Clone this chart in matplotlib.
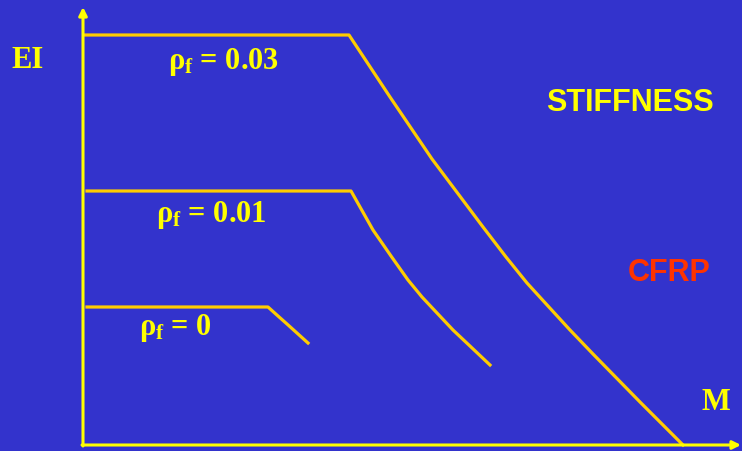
import matplotlib.pyplot as plt

# ======================
# Data (M vs EI, arbitrary units)
# ======================
m_003 = [2, 266, 307, 349, 400, 423, 444, 465, 487, 510, 557, 600]
ei_003 = [410, 410, 348, 286, 218, 188, 162, 139, 115, 91, 43, 0]

m_001 = [4, 268, 290, 308, 325, 339, 354, 370, 388, 407]
ei_001 = [254, 254, 215, 189, 165, 148, 132, 115, 98, 80]

m_000 = [4, 185, 195, 204, 225]
ei_000 = [138, 138, 129, 121, 102]

labels = [r"$\rho_{\mathrm{f}}$ = 0.03", r"$\rho_{\mathrm{f}}$ = 0.01", r"$\rho_{\mathrm{f}}$ = 0"]

BG = "#3333CC"
AXIS_COL = "#FFFF00"
CURVE_COL = "#FFCC00"

plt.rcParams["mathtext.fontset"] = "custom"
plt.rcParams["mathtext.rm"] = "Liberation Serif:bold"
plt.rcParams["mathtext.it"] = "Liberation Serif:bold"
plt.rcParams["mathtext.bf"] = "Liberation Serif:bold"

fig = plt.figure(figsize=(7.42, 4.51), dpi=100, facecolor=BG)
ax = fig.add_axes([0, 0, 1, 1])
ax.set_facecolor(BG)
ax.set_xlim(-83, 659)
ax.set_ylim(-6, 445)
ax.axis("off")

# ======================
# Axes with arrows
# ======================
ax.annotate("", xy=(0, 438), xytext=(0, -1),
            arrowprops=dict(arrowstyle="-|>", color=AXIS_COL, lw=2.2,
                            mutation_scale=12, shrinkA=0, shrinkB=0))
ax.annotate("", xy=(658, 0), xytext=(-1, 0),
            arrowprops=dict(arrowstyle="-|>", color=AXIS_COL, lw=2.2,
                            mutation_scale=12, shrinkA=0, shrinkB=0))

# ======================
# Curves
# ======================
for m, ei in [(m_003, ei_003), (m_001, ei_001), (m_000, ei_000)]:
    ax.plot(m, ei, color=CURVE_COL, lw=2.3, solid_joinstyle="round")

# ======================
# Labels
# ======================
serif = dict(family="Liberation Serif", weight="bold", color=AXIS_COL)
sans = dict(family="Liberation Sans", weight="bold")

ax.text(-55, 384, "EI", fontsize=22, ha="center", va="center", **serif)
ax.text(633, 43, "M", fontsize=22, ha="center", va="center", **serif)

ax.text(141, 383, labels[0], fontsize=22, ha="center", va="center", **serif)
ax.text(128, 230, labels[1], fontsize=22, ha="center", va="center", **serif)
ax.text(92, 117, labels[2], fontsize=22, ha="center", va="center", **serif)

ax.text(547, 342, "STIFFNESS", fontsize=22, ha="center", va="center",
        color=AXIS_COL, **sans)
ax.text(586, 172, "CFRP", fontsize=22, ha="center", va="center",
        color="#FF3300", **sans)

plt.savefig("out.png", dpi=100, facecolor=BG)
